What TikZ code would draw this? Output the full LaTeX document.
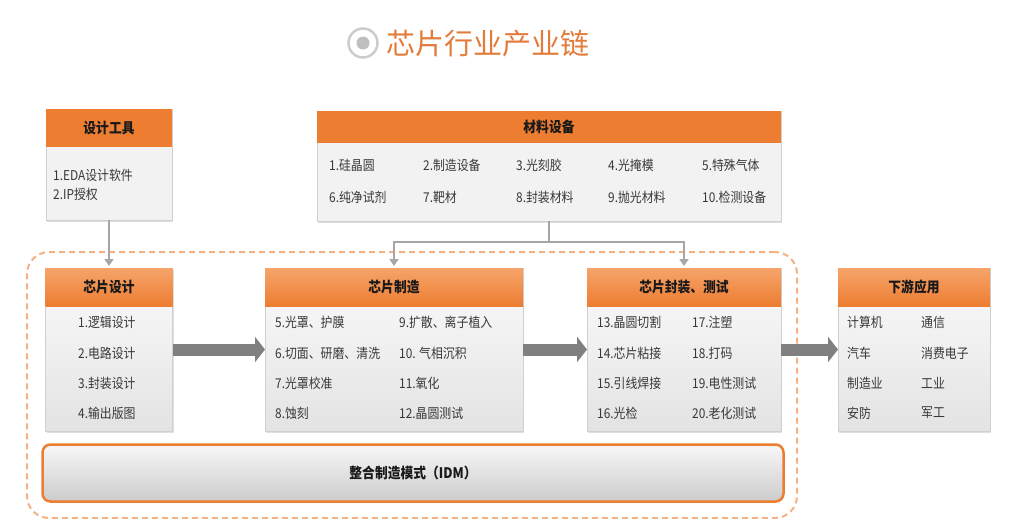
\documentclass[tikz,border=0pt]{standalone}
\usepackage{fontspec}
\setmainfont{Noto Sans CJK SC}
\newfontfamily\narrowfont[FakeStretch=0.88]{Noto Sans CJK SC}
\usetikzlibrary{arrows.meta,shadows}

\definecolor{hdorange}{HTML}{ED7D31}
\definecolor{hdlight}{HTML}{F6A46A}
\definecolor{titleorange}{HTML}{E37B3A}
\definecolor{frameorange}{HTML}{F4B183}
\definecolor{bodygray}{HTML}{F2F2F2}
\definecolor{edgegray}{HTML}{D0D0D0}
\definecolor{linkgray}{HTML}{A6A6A6}
\definecolor{arrowgray}{HTML}{808080}
\definecolor{itemtext}{HTML}{383838}

\tikzset{
    boxshadow/.style={drop shadow={shadow xshift=1pt, shadow yshift=-1.5pt, opacity=0.25}},
    toolbox/.style={draw=edgegray, fill=bodygray, inner sep=0pt, outer sep=0pt, boxshadow},
    stagebox/.style={draw=edgegray, top color=gray!3, bottom color=gray!22, inner sep=0pt, outer sep=0pt, boxshadow},
    toolhead/.style={fill=hdorange, anchor=north, inner sep=0pt, outer sep=0pt, text=black!90,
        font=\narrowfont\bfseries\fontsize{14.5}{16}\selectfont},
    stagehead/.style={toolhead, top color=hdlight, bottom color=hdorange, minimum height=38},
    item/.style={anchor=west, inner sep=0pt, text=itemtext, font=\narrowfont\fontsize{13.5}{15}\selectfont},
    link/.style={draw=linkgray, line width=2.5pt, shorten >=2pt, -{Triangle[length=7pt, width=9pt]}},
    bigarrow/.style={draw=arrowgray, line width=12pt, -{Triangle[length=10pt, width=25pt]}},
    frame/.style={draw=frameorange, line width=2pt, dash pattern=on 6pt off 4pt, rounded corners=22pt,
        inner sep=0pt, outer sep=0pt},
    idmbar/.style={draw=hdorange, line width=2.5pt, rounded corners=8pt, top color=gray!6, bottom color=gray!40,
        text=black!90, font=\narrowfont\bfseries\fontsize{14.5}{16}\selectfont}
}

\begin{document}
\begin{tikzpicture}[x=1pt, y=-1pt]
        \useasboundingbox (0,0) rectangle (1023,519);

        % title
        \node[circle, draw=gray!40, line width=2.5pt, minimum size=29, inner sep=0pt] (icon) at (363,43) {};
        \node[circle, fill=gray!50, minimum size=13, inner sep=0pt] (icondot) at (icon) {};
        \node[anchor=west, inner sep=0pt, text=titleorange, font=\fontsize{29}{32}\selectfont] (title) at (386,44) {芯片行业产业链};

        % idm frame
        \node[frame, minimum width=770, minimum height=266] (idmframe) at (412,385) {};

        % upstream
        \node[toolbox, minimum width=126, minimum height=111] (tools) at (109,164.5) {};
        \node[toolhead, minimum width=126, minimum height=38] (tools-h) at (tools.north) {设计工具};
        \node[item] (t1) at (53,175) {1.EDA设计软件};
        \node[item] (t2) at (53,194) {2.IP授权};

        \node[toolbox, minimum width=464, minimum height=110] (materials) at (549,166) {};
        \node[toolhead, minimum width=464, minimum height=32] (materials-h) at (materials.north) {材料设备};
        \node[item] (m1) at (329,165) {1.硅晶圆};
        \node[item] (m2) at (423,165) {2.制造设备};
        \node[item] (m3) at (516,165) {3.光刻胶};
        \node[item] (m4) at (608,165) {4.光掩模};
        \node[item] (m5) at (702,165) {5.特殊气体};
        \node[item] (m6) at (329,197) {6.纯净试剂};
        \node[item] (m7) at (423,197) {7.靶材};
        \node[item] (m8) at (516,197) {8.封装材料};
        \node[item] (m9) at (608,197) {9.抛光材料};
        \node[item] (m10) at (702,197) {10.检测设备};

        % stages
        \node[stagebox, minimum width=127, minimum height=163] (design) at (109,349.5) {};
        \node[stagehead, minimum width=127] (design-h) at (design.north) {芯片设计};
        \node[item] (d1) at (78,322) {1.逻辑设计};
        \node[item] (d2) at (78,353) {2.电路设计};
        \node[item] (d3) at (78,383) {3.封装设计};
        \node[item] (d4) at (78,413) {4.输出版图};

        \node[stagebox, minimum width=258, minimum height=163] (fab) at (394,349.5) {};
        \node[stagehead, minimum width=258] (fab-h) at (fab.north) {芯片制造};
        \node[item] (f5) at (275,322) {5.光罩、护膜};
        \node[item] (f6) at (275,353) {6.切面、研磨、清洗};
        \node[item] (f7) at (275,383) {7.光罩校准};
        \node[item] (f8) at (275,413) {8.蚀刻};
        \node[item] (f9) at (399,322) {9.扩散、离子植入};
        \node[item] (f10) at (399,353) {10. 气相沉积};
        \node[item] (f11) at (399,383) {11.氧化};
        \node[item] (f12) at (399,413) {12.晶圆测试};

        \node[stagebox, minimum width=194, minimum height=163] (pack) at (684,349.5) {};
        \node[stagehead, minimum width=194] (pack-h) at (pack.north) {芯片封装、测试};
        \node[item] (p13) at (597,322) {13.晶圆切割};
        \node[item] (p14) at (597,353) {14.芯片粘接};
        \node[item] (p15) at (597,383) {15.引线焊接};
        \node[item] (p16) at (597,413) {16.光检};
        \node[item] (p17) at (692,322) {17.注塑};
        \node[item] (p18) at (692,353) {18.打码};
        \node[item] (p19) at (692,383) {19.电性测试};
        \node[item] (p20) at (692,413) {20.老化测试};

        \node[stagebox, minimum width=152, minimum height=163] (apps) at (914,349.5) {};
        \node[stagehead, minimum width=152] (apps-h) at (apps.north) {下游应用};
        \node[item] (a1) at (847,322) {计算机};
        \node[item] (a2) at (847,353) {汽车};
        \node[item] (a3) at (847,383) {制造业};
        \node[item] (a4) at (847,413) {安防};
        \node[item] (a5) at (921,322) {通信};
        \node[item] (a6) at (921,353) {消费电子};
        \node[item] (a7) at (921,383) {工业};
        \node[item] (a8) at (921,413) {军工};

        \node[idmbar, minimum width=741, minimum height=57] (idm) at (413,473) {整合制造模式（IDM）};

        % connectors
        \coordinate (split) at (549,242);
        \path[link] (tools) -- (design-h.north);
        \path[link] (materials.south) -- (split) -| (fab-h.north);
        \path[link] (split) -| (pack-h.north);

        \path[bigarrow] (design) -- (fab);
        \path[bigarrow] (fab) -- (pack);
        \path[bigarrow] (pack) -- (apps);
    \end{tikzpicture}
\end{document}
